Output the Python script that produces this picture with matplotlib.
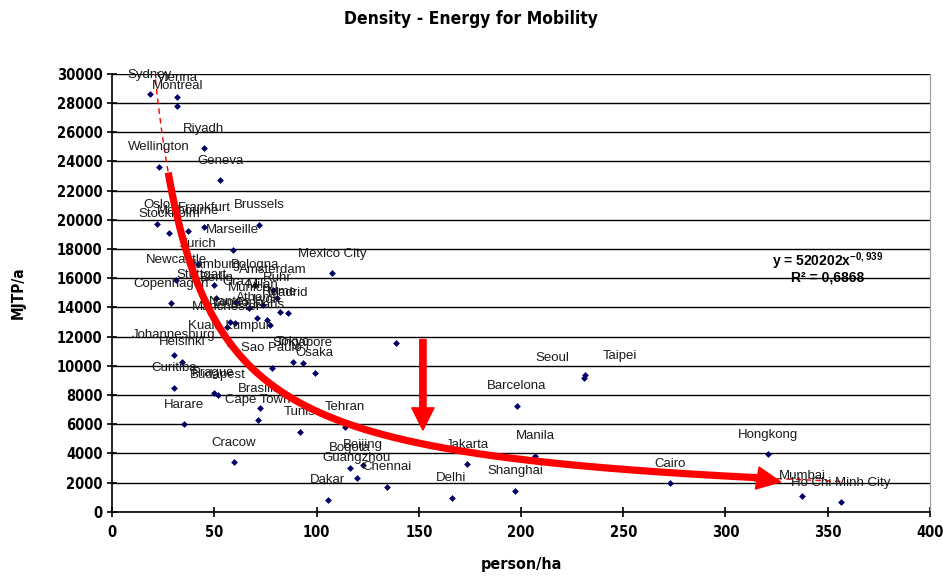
import matplotlib
matplotlib.use("Agg")
import matplotlib.pyplot as plt
import numpy as np

# city data: density (person/ha) vs transport energy (MJ/person/a)
cities = [
    "Sydney", "Vienna", "Montreal", "Riyadh", "Wellington", "Geneva",
    "Oslo", "Stockholm", "Frankfurt", "Melbourne", "Brussels", "Marseille",
    "Zurich", "Newcastle", "Hamburg", "Bologna", "Copenhagen", "Stuttgart",
    "Berlin", "Graz", "Madrid", "Munich", "Milan", "Rome", "Athens", "Lyon",
    "Nantes", "London", "Manchester", "Paris", "Amsterdam", "Ruhr",
    "Kuala Lumpur", "Johannesburg", "Helsinki", "Sao Paulo", "Tokyo",
    "Singapore", "Osaka", "Curitiba", "Prague", "Budapest", "Brasilia",
    "Cape Town", "Harare", "Tunis", "Tehran", "Cracow", "Bogota", "Beijing",
    "Guangzhou", "Chennai", "Dakar", "Mexico City", "", "Jakarta", "Delhi",
    "Shanghai", "Manila", "Barcelona", "Seoul", "Taipei", "Hongkong", "Cairo",
    "Mumbai", "Ho Chi Minh City",
]
density = [
    18.5, 31.8, 31.8, 44.7, 23.0, 52.8,
    22.0, 28.0, 45.0, 37.0, 72.0, 59.0,
    42.0, 31.4, 50.0, 69.7, 29.0, 43.7,
    51.0, 60.8, 86.0, 67.0, 73.6, 82.0, 70.7, 75.6,
    57.4, 60.0, 56.0, 77.0, 78.5, 80.5,
    57.4, 30.0, 34.0, 78.0, 88.3,
    93.3, 99.1, 30.4, 49.6, 51.7, 72.1,
    71.3, 35.0, 91.8, 113.9, 59.4, 116.3, 122.7,
    119.7, 134.5, 105.5, 107.6, 139.0, 173.6, 166.0,
    197.3, 207.0, 198.0, 230.8, 231.5, 320.8, 273.0,
    337.7, 356.5,
]
energy = [
    28600, 28400, 27800, 24900, 23650, 22700,
    19700, 19100, 19500, 19250, 19650, 17950,
    17000, 15900, 15550, 15550, 14300, 14860,
    14650, 14380, 13630, 13970, 14180, 13700, 13290, 13150,
    13010, 12940, 12670, 12810, 15200, 14650,
    11400, 10750, 10270, 9860, 10270,
    10200, 9520, 8490, 8170, 8010, 7100,
    6300, 6000, 5500, 5840, 3400, 3010, 3220,
    2330, 1710, 820, 16350, 11550, 3270, 960,
    1460, 3840, 7260, 9200, 9350, 3950, 1960,
    1120, 660,
]

# power trend reported on the chart
TREND_A = 520202
TREND_B = -0.939
R2_TEXT = "R² = 0,6868"

x_ticks = list(range(0, 401, 50))
y_ticks = list(range(0, 30001, 2000))

NARROW = ["Liberation Sans Narrow", "DejaVu Sans"]
plt.rcParams["font.family"] = ["Liberation Sans", "DejaVu Sans"]
plt.rcParams["mathtext.default"] = "regular"

fig = plt.figure(figsize=(9.43, 5.81), dpi=100)
ax = fig.add_axes([0.119, 0.119, 0.867, 0.754])

ax.set_xlim(0, 400)
ax.set_ylim(0, 30000)
ax.set_xticks(x_ticks)
ax.set_yticks(y_ticks)
ax.yaxis.grid(True, color="black", linewidth=1.0)
ax.set_axisbelow(True)

for lab in ax.get_xticklabels() + ax.get_yticklabels():
    lab.set_family(NARROW)
    lab.set_fontweight("bold")
    lab.set_fontstretch("condensed")
    lab.set_fontsize(10.5)
ax.tick_params(direction="inout", length=7, width=1.2, colors="black")
ax.tick_params(axis="x", pad=6)

ax.spines["top"].set_visible(False)
ax.spines["right"].set_color("#999999")
ax.spines["left"].set_linewidth(1.2)
ax.spines["bottom"].set_linewidth(1.2)

# dashed trendline over the data range
xs = np.linspace(min(density), max(density), 400)
ax.plot(xs, TREND_A * xs ** TREND_B, color="red", linestyle=(0, (4, 3)),
        linewidth=1.0, zorder=2)

# points and city labels
ax.scatter(density, energy, marker="D", s=12, color="#000066", zorder=3,
           linewidths=0)
for name, x, y in zip(cities, density, energy):
    if not name:
        continue
    dx = 0
    if name == "Seoul":
        dx = -23
    elif name == "Taipei":
        dx = 25
    ax.annotate(name, (x, y), xytext=(dx, 14), textcoords="offset points",
                ha="center", va="center", fontsize=9.5, color="#1a1a1a",
                zorder=4)

# thick red annotation arrow following the trend
arrow_x = np.linspace(27.4, 316, 300)
ax.plot(arrow_x, TREND_A * arrow_x ** TREND_B, color="red", linewidth=5.2,
        solid_capstyle="butt", zorder=5)
ax.annotate("", xy=(327, 2050), xytext=(314, TREND_A * 314 ** TREND_B),
            arrowprops=dict(arrowstyle="simple,head_length=1.7,head_width=1.6,tail_width=0.45",
                            color="red", shrinkA=0, shrinkB=0, mutation_scale=10),
            zorder=5)
# vertical arrow
ax.annotate("", xy=(152, 5600), xytext=(152, 11800),
            arrowprops=dict(arrowstyle="simple,head_length=1.6,head_width=1.6,tail_width=0.45",
                            color="red", shrinkA=0, shrinkB=0, mutation_scale=10),
            zorder=5)

# equation labels
ax.text(350, 17150, "y = 520202x$^{-0,939}$", ha="center", va="center",
        fontsize=10, fontweight="bold", zorder=6)
ax.text(350, 16050, R2_TEXT, ha="center", va="center",
        fontsize=10, fontweight="bold", zorder=6)

fig.text(0.5, 0.968, "Density - Energy for Mobility", ha="center", va="center",
         family=NARROW, fontsize=12.5, fontweight="bold", fontstretch="condensed")
ax.set_xlabel("person/ha", family=NARROW, fontsize=11.5, fontweight="bold",
              fontstretch="condensed", labelpad=12)
ax.set_ylabel("MJTP/a", family=NARROW, fontsize=11, fontweight="bold",
              fontstretch="condensed", labelpad=22)

fig.savefig("out.png", dpi=100)
